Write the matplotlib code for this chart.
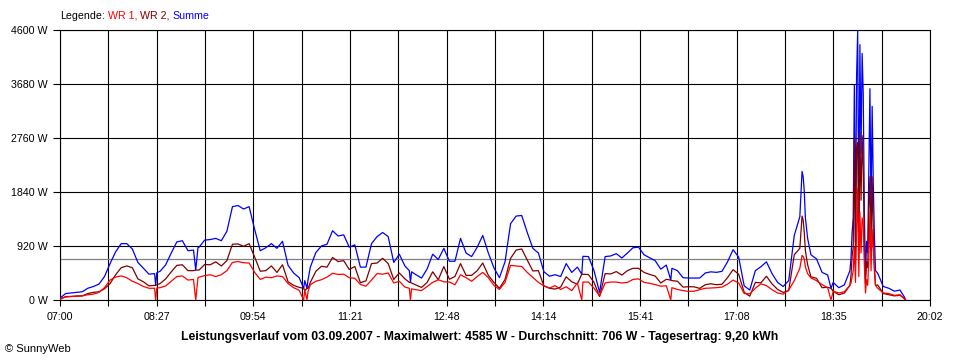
import matplotlib.pyplot as plt
import numpy as np

# Minuten nach 07:00
minuten = [0, 5, 10, 15, 20, 25, 30, 35, 40, 45, 50, 55, 60, 65, 70, 75, 80, 85, 86, 87,
           90, 95, 100, 105, 110, 115, 120, 122, 124, 125, 130, 135,
           140, 145, 150, 155, 160, 165, 170, 175, 180, 185, 190, 195, 200, 205, 210, 215,
           219, 220, 222, 223, 225, 230, 235, 240, 245, 250, 255, 260, 265,
           270, 275, 280, 285, 290, 295, 300, 305, 310, 314, 315, 316, 320, 325, 330, 335,
           340, 345, 350, 355, 360, 365, 370, 375, 380, 385, 390, 395,
           400, 405, 410, 415, 420, 425, 430, 435, 440, 445, 450, 455, 460, 465, 469, 470,
           475, 480, 485, 490, 495, 500, 505, 510, 515, 520, 525,
           530, 535, 540, 545, 549, 550, 555, 560, 565, 570, 575, 580, 585, 590, 595, 600,
           605, 610, 615, 620, 625, 630, 635, 640, 645, 650, 655,
           660, 665, 666, 667, 668, 669, 670, 672, 675, 680, 685, 690, 693, 695, 700, 705,
           710, 711, 712, 713, 714, 715, 716, 717, 718, 719, 720, 721, 722, 723, 724, 725,
           726, 727, 728, 729, 730, 731, 732, 733, 735, 740, 745, 750, 755, 759, 760]

# WR 1 (W)
wr1 = [20, 50, 60, 60, 70, 90, 100, 130, 210, 340, 390, 410, 380, 320, 280, 230, 200, 200, 0, 205,
       210, 240, 320, 400, 410, 340, 350, 0, 380, 390, 415, 430,
       400, 430, 500, 640, 655, 635, 630, 470, 350, 390, 380, 410, 400, 280, 210, 165,
       0, 170, 0, 150, 260, 320, 346, 390, 455, 435, 440, 380, 370,
       265, 235, 340, 450, 440, 460, 290, 320, 220, 200, 0, 190, 175, 160, 230, 300,
       345, 310, 306, 260, 430, 380, 320, 400, 470, 380, 250, 180,
       300, 590, 580, 570, 470, 385, 300, 240, 205, 245, 180, 225, 160, 290, 0, 306,
       306, 200, 70, 290, 306, 306, 290, 300, 350, 360, 300,
       285, 262, 235, 243, 0, 210, 180, 160, 147, 150, 176, 200, 204, 210, 220, 270,
       340, 290, 110, 105, 200, 275, 245, 176, 120, 100, 170,
       330, 540, 650, 760, 740, 700, 560, 450, 376, 330, 261, 210, 0, 150, 120, 140,
       250, 290, 400, 500, 900, 300, 1200, 1900, 400, 1500, 800, 1400, 1300, 600, 120, 350,
       250, 700, 1500, 500, 1200, 900, 600, 250, 200, 120, 110, 80, 90, 20, 0]

# WR 2 (W)
wr2 = [10, 60, 60, 70, 70, 110, 130, 140, 190, 280, 430, 550, 580, 550, 360, 310, 240, 250, 250, 260,
       280, 360, 480, 590, 600, 500, 500, 510, 510, 510, 605, 600,
       650, 580, 670, 950, 955, 915, 960, 730, 490, 500, 580, 470, 600, 310, 250, 215,
       200, 160, 200, 200, 300, 490, 574, 560, 725, 655, 670, 520, 570,
       295, 325, 620, 630, 710, 620, 350, 460, 360, 300, 300, 290, 255, 214, 300, 480,
       345, 570, 354, 400, 620, 420, 420, 500, 630, 420, 300, 200,
       350, 710, 850, 870, 680, 495, 500, 240, 200, 186, 220, 395, 310, 270, 440, 438,
       434, 300, 60, 450, 444, 484, 425, 500, 540, 540, 470,
       435, 408, 290, 352, 340, 330, 320, 220, 227, 224, 198, 260, 276, 261, 268, 380,
       517, 440, 130, 65, 300, 292, 405, 274, 180, 130, 160,
       770, 880, 1150, 1430, 1360, 1150, 840, 600, 394, 370, 209, 217, 200, 150, 90, 117,
       250, 421, 750, 900, 2760, 700, 2600, 2685, 800, 2850, 1700, 2800, 2200, 900, 280, 650,
       550, 1500, 2100, 1000, 2100, 1100, 500, 250, 256, 110, 90, 70, 80, 30, 0]

summe = np.array(wr1) + np.array(wr2)
durchschnitt = 706

y_ticks = [0, 920, 1840, 2760, 3680, 4600]
x_labels = ["07:00", "08:27", "09:54", "11:21", "12:48", "14:14", "15:41", "17:08", "18:35", "20:02"]
titel = ("Leistungsverlauf vom 03.09.2007 - Maximalwert: 4585 W - "
         "Durchschnitt: 706 W - Tagesertrag: 9,20 kWh")

plt.rcParams['font.family'] = ['Liberation Sans', 'DejaVu Sans']

fig = plt.figure(figsize=(9.6, 3.6), dpi=100)
ax = fig.add_axes([60 / 960, 60 / 360, 870 / 960, 270 / 360])

ax.plot(minuten, summe, color='#0000ff', lw=0.9, zorder=3)
ax.plot(minuten, wr2, color='#800000', lw=0.9, zorder=4)
ax.plot(minuten, wr1, color='#ff0000', lw=0.9, zorder=5)
ax.axhline(durchschnitt, color='#808080', lw=0.9, zorder=2)

ax.set_xlim(0, 782)
ax.set_ylim(0, 4600)
x_ticks = np.linspace(0, 782, 19)
ax.set_xticks(x_ticks)
ax.set_xticklabels([x_labels[i // 2] if i % 2 == 0 else '' for i in range(19)])
ax.set_yticks(y_ticks)
ax.set_yticklabels([f"{v} W" for v in y_ticks])
ax.tick_params(axis='x', length=4, width=0.8, pad=5, labelsize=7.7)
ax.tick_params(axis='y', length=5, width=0.8, pad=4, labelsize=7.7)
ax.grid(True, color='black', lw=0.8, zorder=1)
ax.set_axisbelow(True)
for s in ax.spines.values():
    s.set_color('black')
    s.set_linewidth(0.8)

fig.text(0.5, 1 - 337 / 360, titel, ha='center', va='center', fontsize=8.8, fontweight='bold')
fig.text(5 / 960, 1 - 349 / 360, '\u00a9 SunnyWeb', va='center', fontsize=8)

# Legende mit farbigen Teilen
renderer = fig.canvas.get_renderer()
x = 60 / 960
for txt, col in [("Legende:", 'black'), ("WR 1,", '#ff0000'), ("WR 2,", '#800000'), ("Summe", '#0000ff')]:
    t = fig.text(x, 1 - 16 / 360, txt, color=col, va='center', fontsize=7.7)
    bb = t.get_window_extent(renderer)
    x = (bb.x1 + 3) / fig.bbox.width

fig.savefig('out.png', dpi=100)
